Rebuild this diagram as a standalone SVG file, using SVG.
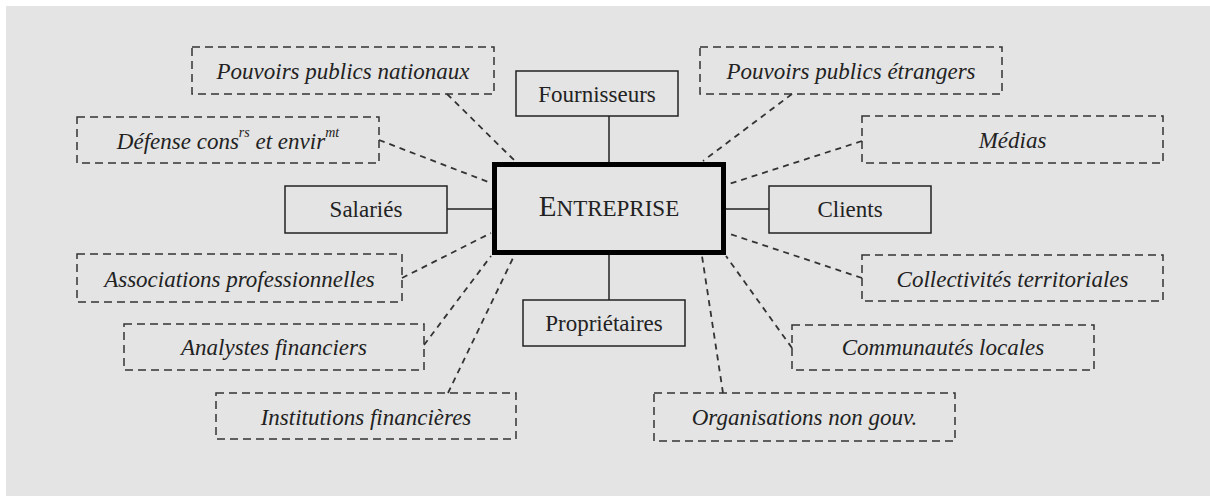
<svg xmlns="http://www.w3.org/2000/svg" width="1210" height="496" viewBox="0 0 1210 496">
<style>
.bg{fill:#e4e4e4}
.dbox{fill:none;stroke:#333;stroke-width:1.5;stroke-dasharray:8 5}
.sbox{fill:none;stroke:#222;stroke-width:1.5}
.main{fill:none;stroke:#000;stroke-width:5}
.solid{stroke:#222;stroke-width:1.5;fill:none}
.dash{stroke:#333;stroke-width:1.8;stroke-dasharray:6 5;fill:none}
text{font-size:23px;fill:#222;text-anchor:middle}
.it{font-style:italic}
.sup{font-size:14px}
</style>
<rect class="bg" x="6" y="6" width="1204" height="490"/>
<g id="connectors">
<line class="solid" x1="609" y1="116" x2="609" y2="162"/>
<line class="solid" x1="609" y1="255" x2="609" y2="300"/>
<line class="solid" x1="447" y1="209" x2="492" y2="209"/>
<line class="solid" x1="726" y1="209" x2="769" y2="209"/>
<line class="dash" x1="447" y1="94" x2="515" y2="161"/>
<line class="dash" x1="379" y1="140" x2="491" y2="183"/>
<line class="dash" x1="792" y1="94" x2="703" y2="161"/>
<line class="dash" x1="862" y1="141" x2="726" y2="185"/>
<line class="dash" x1="402" y1="278" x2="491" y2="233"/>
<line class="dash" x1="424" y1="345" x2="491" y2="256"/>
<line class="dash" x1="448" y1="393" x2="514" y2="256"/>
<line class="dash" x1="723" y1="393" x2="702" y2="256"/>
<line class="dash" x1="792" y1="348" x2="726" y2="256"/>
<line class="dash" x1="862" y1="278" x2="727" y2="233"/>
</g>
<g font-family="'Liberation Serif', 'DejaVu Serif', serif">
<g id="entreprise">
<rect class="main" x="494.5" y="164.5" width="229" height="88"/>
<text x="609" y="216"><tspan font-size="29">E</tspan>NTREPRISE</text>
</g>
<g id="fournisseurs">
<rect class="sbox" x="516" y="71" width="162" height="45"/>
<text x="597" y="102">Fournisseurs</text>
</g>
<g id="salaries">
<rect class="sbox" x="285" y="186" width="162" height="47"/>
<text x="366" y="217">Salariés</text>
</g>
<g id="clients">
<rect class="sbox" x="769" y="186" width="162" height="47"/>
<text x="850" y="217">Clients</text>
</g>
<g id="proprietaires">
<rect class="sbox" x="523" y="300" width="162" height="46"/>
<text x="604" y="331">Propriétaires</text>
</g>
<g id="pp_nationaux">
<rect class="dbox" x="192" y="47" width="302" height="47"/>
<text class="it" x="343" y="79">Pouvoirs publics nationaux</text>
</g>
<g id="defense">
<rect class="dbox" x="77" y="117" width="302" height="46"/>
<text class="it" x="228" y="149">Défense cons<tspan class="sup" dy="-12">rs</tspan><tspan dy="12"> et envir</tspan><tspan class="sup" dy="-12">mt</tspan></text>
</g>
<g id="pp_etrangers">
<rect class="dbox" x="700" y="47" width="302" height="47"/>
<text class="it" x="851" y="79">Pouvoirs publics étrangers</text>
</g>
<g id="medias">
<rect class="dbox" x="862" y="116" width="301" height="47"/>
<text class="it" x="1012.5" y="148">Médias</text>
</g>
<g id="associations">
<rect class="dbox" x="77" y="254" width="325" height="48"/>
<text class="it" x="239.5" y="287">Associations professionnelles</text>
</g>
<g id="analystes">
<rect class="dbox" x="124" y="324" width="300" height="46"/>
<text class="it" x="274" y="355">Analystes financiers</text>
</g>
<g id="institutions">
<rect class="dbox" x="216" y="393" width="300" height="46"/>
<text class="it" x="366" y="425">Institutions financières</text>
</g>
<g id="organisations">
<rect class="dbox" x="654" y="393" width="301" height="48"/>
<text class="it" x="804.5" y="425">Organisations non gouv.</text>
</g>
<g id="communautes">
<rect class="dbox" x="792" y="325" width="302" height="45"/>
<text class="it" x="943" y="355">Communautés locales</text>
</g>
<g id="collectivites">
<rect class="dbox" x="862" y="255" width="301" height="46"/>
<text class="it" x="1012.5" y="287">Collectivités territoriales</text>
</g>
</g>
</svg>
